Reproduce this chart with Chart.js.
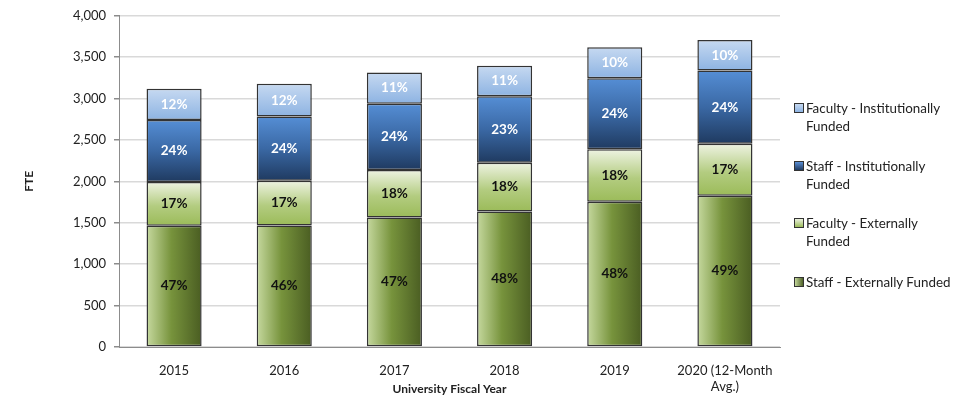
<!DOCTYPE html>
<html>
<head>
<meta charset="utf-8">
<script src="https://cdn.jsdelivr.net/npm/chart.js@4.4.1/dist/chart.umd.min.js"></script>
<style>
    html, body { margin: 0; padding: 0; background: #fff; }
    #wrap { position: relative; width: 969px; height: 403px; }
    .leg { position: absolute; left: 794px; font: 13.4px Lato, sans-serif; color: #222; line-height: 18px; }
    .leg span.box { position: absolute; left: 0; top: 4px; width: 8px; height: 8px; border: 1px solid #333; }
    .leg div { padding-left: 12px; }
</style>
</head>
<body>
<div id="wrap">
    <canvas id="fteChart" width="969" height="403"></canvas>
    <div class="leg" style="top:99px"><span class="box" style="background:linear-gradient(#c6d9f1,#8db3e2)"></span><div>Faculty - Institutionally<br>Funded</div></div>
    <div class="leg" style="top:157px"><span class="box" style="background:linear-gradient(#5a8fd6,#1f3a60)"></span><div>Staff - Institutionally<br>Funded</div></div>
    <div class="leg" style="top:214px"><span class="box" style="background:linear-gradient(#ebf1de,#9bbb59)"></span><div>Faculty - Externally<br>Funded</div></div>
    <div class="leg" style="top:273px"><span class="box" style="background:linear-gradient(90deg,#c4d79b,#4f6228)"></span><div>Staff - Externally Funded</div></div>
</div>
<script>
const years = ['2015', '2016', '2017', '2018', '2019', ['2020 (12-Month', 'Avg.)']];

// FTE by group, bottom of stack first
const staffExternal = [1465, 1468, 1565, 1637, 1754, 1826];
const facultyExternal = [529, 540, 573, 589, 633, 628];
const staffInstitutional = [748, 775, 801, 801, 860, 885];
const facultyInstitutional = [377, 395, 376, 369, 372, 369];

// share labels printed on the bars
const staffExternalPct = ['47%', '46%', '47%', '48%', '48%', '49%'];
const facultyExternalPct = ['17%', '17%', '18%', '18%', '18%', '17%'];
const staffInstitutionalPct = ['24%', '24%', '24%', '23%', '24%', '24%'];
const facultyInstitutionalPct = ['12%', '12%', '11%', '11%', '10%', '10%'];

const yTicks = [0, 500, 1000, 1500, 2000, 2500, 3000, 3500, 4000];

const FONT = 'Lato, sans-serif';

// gradient fill per bar segment, built from the scales
function segmentFill(dir, stops, fallback) {
    return (c) => {
        const chart = c.chart;
        const { ctx, chartArea, scales } = chart;
        if (!chartArea || c.type !== 'data') return fallback;
        const xc = scales.x.getPixelForValue(c.dataIndex);
        const half = (scales.x.width / years.length) * 0.25;
        let base = 0;
        for (let d = 0; d < c.datasetIndex; d++) base += chart.data.datasets[d].data[c.dataIndex];
        const top = base + chart.data.datasets[c.datasetIndex].data[c.dataIndex];
        const y0 = scales.y.getPixelForValue(base);
        const y1 = scales.y.getPixelForValue(top);
        const g = dir === 'h'
            ? ctx.createLinearGradient(xc - half, 0, xc + half, 0)
            : ctx.createLinearGradient(0, y1, 0, y0);
        stops.forEach(([p, col]) => g.addColorStop(p, col));
        return g;
    };
}

const barLabels = {
    id: 'barLabels',
    afterDatasetsDraw(chart) {
        const ctx = chart.ctx;
        ctx.save();
        ctx.font = 'bold 13.5px ' + FONT;
        ctx.textAlign = 'center';
        ctx.textBaseline = 'middle';
        chart.data.datasets.forEach((ds, i) => {
            chart.getDatasetMeta(i).data.forEach((el, j) => {
                ctx.fillStyle = ds.labelColor;
                ctx.fillText(ds.pct[j], el.x, (el.y + el.base) / 2);
            });
        });
        ctx.restore();
    }
};

const border = '#333';

new Chart(document.getElementById('fteChart'), {
    type: 'bar',
    data: {
        labels: years,
        datasets: [
            {
                label: 'Staff - Externally Funded',
                data: staffExternal,
                pct: staffExternalPct,
                labelColor: '#111',
                backgroundColor: segmentFill('h', [[0, '#c6d99f'], [0.45, '#77933c'], [1, '#4a5d22']], '#77933c')
            },
            {
                label: 'Faculty - Externally Funded',
                data: facultyExternal,
                pct: facultyExternalPct,
                labelColor: '#111',
                backgroundColor: segmentFill('v', [[0, '#eef3e2'], [0.55, '#b3cc80'], [1, '#9bbb59']], '#b3cc80')
            },
            {
                label: 'Staff - Institutionally Funded',
                data: staffInstitutional,
                pct: staffInstitutionalPct,
                labelColor: '#fff',
                backgroundColor: segmentFill('v', [[0, '#558ed5'], [0.5, '#3a68a4'], [1, '#1f3a60']], '#3a68a4')
            },
            {
                label: 'Faculty - Institutionally Funded',
                data: facultyInstitutional,
                pct: facultyInstitutionalPct,
                labelColor: '#fff',
                backgroundColor: segmentFill('v', [[0, '#c6d9f1'], [1, '#8db3e2']], '#a6c4ea')
            }
        ].map(ds => Object.assign(ds, {
            borderColor: border,
            borderWidth: 1.5,
            borderSkipped: false,
            barPercentage: 0.5,
            categoryPercentage: 1
        }))
    },
    options: {
        responsive: false,
        animation: false,
        layout: { padding: { top: 12, right: 189, bottom: 0, left: 0 } },
        plugins: {
            legend: { display: false },
            tooltip: { enabled: false }
        },
        scales: {
            x: {
                stacked: true,
                afterFit: s => { s.height = 56; },
                grid: { display: false },
                border: { display: true, color: '#8c8c8c', width: 1 },
                ticks: { color: '#222', font: { family: FONT, size: 13 }, padding: 8, maxRotation: 0 },
                title: {
                    display: true,
                    text: 'University Fiscal Year',
                    color: '#222',
                    font: { family: FONT, size: 12, weight: 'bold' },
                    padding: { top: 0, bottom: 7 }
                }
            },
            y: {
                stacked: true,
                min: 0,
                max: 4000,
                afterFit: s => { s.width = 119; },
                afterBuildTicks: s => { s.ticks = yTicks.map(v => ({ value: v })); },
                grid: { color: '#d9d9d9', lineWidth: 1.5, tickLength: 5, tickColor: '#8c8c8c' },
                border: { display: true, color: '#8c8c8c', width: 1 },
                ticks: {
                    color: '#222',
                    padding: 8,
                    font: { family: FONT, size: 13 },
                    callback: v => v.toLocaleString('en-US')
                },
                title: {
                    display: true,
                    text: 'FTE',
                    color: '#222',
                    font: { family: FONT, size: 12, weight: 'bold' },
                    padding: { top: 22, bottom: 0 }
                }
            }
        }
    },
    plugins: [barLabels]
});
</script>
</body>
</html>
